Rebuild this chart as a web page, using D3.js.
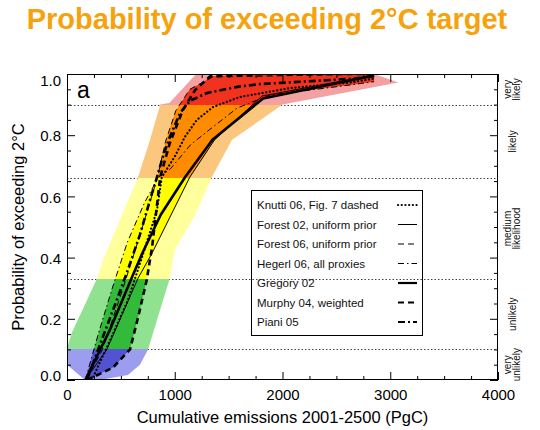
<!DOCTYPE html>
<html><head><meta charset="utf-8">
<script src="https://cdn.jsdelivr.net/npm/d3@7"></script>
<style>
body{margin:0;background:#fff}
svg{display:block}
text{font-family:"Liberation Sans",Arial,Helvetica,sans-serif}
</style>
</head><body>
<svg id="c" width="540" height="430"></svg>
<script>
// ---------------- data ----------------
const title = "Probability of exceeding 2°C target";
const xLabel = "Cumulative emissions 2001-2500 (PgC)";
const yLabel = "Probability of exceeding 2°C";
const xTicks = [0, 1000, 2000, 3000, 4000];
const yTicks = [0, 0.2, 0.4, 0.6, 0.8, 1.0];
const bandEdges = [0, 0.1, 0.33, 0.66, 0.9, 1.0];
const bandNames = [["very","unlikely"],["unlikely"],["medium","likelihood"],["likely"],["very","likely"]];
const seriesNames = ["Knutti 06, Fig. 7 dashed","Forest 02, uniform prior","Forest 06, uniform prior",
  "Hegerl 06, all proxies","Gregory 02","Murphy 04, weighted","Piani 05"];

// curves: [cumulative emissions PgC, probability]
const knutti06 = [[230,0],[400,0.13],[565,0.26],[695,0.4],[835,0.555],[880,0.663],[1000,0.73],[1095,0.795],
  [1205,0.85],[1355,0.892],[1605,0.925],[2070,0.954],[2625,0.972],[2850,0.985]];
const forest02 = [[170,0],[370,0.1],[660,0.333],[790,0.415],[1140,0.663],[1370,0.785],[1810,0.928],[2850,0.997]];
const forest06 = [[180,0],[330,0.1],[520,0.3],[700,0.5],[840,0.663],[915,0.78],[1010,0.88],[1140,0.95],[1350,0.99],[2850,1.0]];
const hegerl06 = [[170,0],[290,0.15],[420,0.3],[560,0.45],[720,0.58],[850,0.663],[960,0.69],[1150,0.77],
  [1355,0.827],[1580,0.889],[1885,0.931],[2625,0.964],[2850,0.975]];
const gregory02 = [[170,0],[400,0.165],[600,0.333],[700,0.415],[870,0.54],[1100,0.665],[1350,0.785],[1820,0.92],[2850,0.995]];
const murphy04 = [[185,0],[425,0.04],[585,0.1],[660,0.205],[740,0.327],[790,0.435],[865,0.663],[955,0.775],
  [1075,0.882],[1190,0.948],[1330,0.993],[1800,1.0],[2850,1.0]];
const piani05 = [[185,0],[305,0.115],[445,0.245],[565,0.36],[677,0.475],[770,0.588],[835,0.663],[890,0.73],
  [955,0.795],[1050,0.873],[1140,0.912],[1300,0.938],[1580,0.958],[1790,0.967],[2625,0.984],[2850,0.993]];
const curves = [knutti06, forest02, forest06, hegerl06, gregory02, murphy04, piani05];

// outer (uncertainty) envelope
const outerLeft = [[167,0],[0,0.05],[0,0.1],[10,0.115],[45,0.155],[165,0.245],[280,0.333],[335,0.392],
  [490,0.523],[660,0.663],[770,0.784],[865,0.9],[950,0.905],[1190,0.997]];
const outerRight = [[2850,1.0],[3075,0.972],[2000,0.9],[1530,0.784],[1345,0.663],[1190,0.54],[1000,0.425],
  [955,0.333],[865,0.23],[752,0.1],[677,0.05],[565,0.016],[305,0]];

// ---------------- styles ----------------
const lightColors = ["#9D9DF0","#90E291","#FFFF9C","#FBC67E","#F3A1A1"];
const darkColors  = ["#5353D2","#34BA3A","#FFFF00","#FF8C00","#F0321E"];
const lineStyles = [
  {w:2.2, dash:"0.1,3.6", cap:"round"},
  {w:1,   dash:null, cap:"butt"},
  {w:1,   dash:"6,4", cap:"butt"},
  {w:1,   dash:"6,3,1.5,3", cap:"butt"},
  {w:2.6, dash:null, cap:"butt"},
  {w:2.6, dash:"6,4", cap:"butt"},
  {w:2.6, dash:"7,3,2,3", cap:"butt"}
];

// ---------------- chart ----------------
const svg = d3.select("#c");
const x = d3.scaleLinear().domain([0,4000]).range([67,498]);
const y = d3.scaleLinear().domain([0,1]).range([380,74]);
const defs = svg.append("defs");
defs.append("clipPath").attr("id","plot").append("rect")
  .attr("x",x(0)).attr("y",y(1)).attr("width",x(4000)-x(0)).attr("height",y(0)-y(1));

bandEdges.slice(0,-1).forEach((lo,i)=>{
  const hi = bandEdges[i+1];
  defs.append("clipPath").attr("id","band"+i).append("rect")
    .attr("x",x(0)).attr("width",x(4000)-x(0))
    .attr("y",Math.round(y(hi)) - (i===bandEdges.length-2?2:0))
    .attr("height",Math.round(y(lo))-Math.round(y(hi)) + (i===bandEdges.length-2?2:0));
});

// reference dotted lines
svg.append("g").selectAll("line").data(bandEdges.slice(1,-1)).join("line")
  .attr("x1",x(0)).attr("x2",x(4000)).attr("y1",d=>Math.round(y(d))+0.5).attr("y2",d=>Math.round(y(d))+0.5)
  .attr("stroke","#444").attr("stroke-width",1).attr("stroke-dasharray","1.5,2");

// envelopes
const line = d3.line().x(d=>x(d[0])).y(d=>y(d[1]));
const outerPoly = outerLeft.concat(outerRight);

function crossings(c, v){
  const xs=[];
  for(let i=0;i<c.length-1;i++){
    const [x1,y1]=c[i],[x2,y2]=c[i+1];
    if(y1===y2){ if(y1===v) xs.push(x1,x2); }
    else if((v>=Math.min(y1,y2)) && (v<=Math.max(y1,y2))) xs.push(x1+(v-y1)/(y2-y1)*(x2-x1));
  }
  return xs;
}
const levels = d3.range(0,1.0001,0.0025).map(v=>Math.min(1,+v.toFixed(4)));
const innerL=[], innerR=[];
levels.forEach(v=>{
  let lo=Infinity, hi=-Infinity;
  curves.forEach(c=>{
    const xs=crossings(c,v);
    if(xs.length){ lo=Math.min(lo,d3.min(xs)); hi=Math.max(hi,d3.max(xs)); }
    else if(v>d3.max(c,d=>d[1])) hi=Math.max(hi,c[c.length-1][0]);
  });
  if(isFinite(lo)){ innerL.push([lo,v]); innerR.push([hi,v]); }
});
const innerPoly = innerL.concat(innerR.reverse());

const env = svg.append("g").attr("clip-path","url(#plot)");
lightColors.forEach((col,i)=>{
  env.append("path").attr("d",line(outerPoly)+"Z").attr("fill",col).attr("clip-path","url(#band"+i+")");
});
darkColors.forEach((col,i)=>{
  env.append("path").attr("d",line(innerPoly)+"Z").attr("fill",col).attr("clip-path","url(#band"+i+")");
});

// curves
const cg = svg.append("g").attr("clip-path","url(#plot)");
curves.forEach((c,i)=>{
  const s=lineStyles[i];
  cg.append("path").attr("d",line(c)).attr("fill","none").attr("stroke","#000")
    .attr("stroke-width",s.w).attr("stroke-dasharray",s.dash).attr("stroke-linecap",s.cap)
    .attr("stroke-linejoin","round");
});

// axes
const xMinor = d3.range(0,4001,250).filter(v=>!xTicks.includes(v));
const yMinor = d3.range(0,21).map(i=>i*0.05).filter(v=>!yTicks.some(t=>Math.abs(t-v)<1e-6));
function ax(gen, scale, ticks, size, fmt){
  const g = svg.append("g").call(gen(scale).tickValues(ticks).tickSize(size).tickFormat(fmt).tickPadding(9));
  g.select(".domain").remove();
  g.selectAll("line").attr("stroke","#000");
  return g;
}
const bottom = ax(d3.axisBottom, x, xTicks, -8, d3.format("d")).attr("transform",`translate(0,${y(0)})`);
ax(d3.axisBottom, x, xMinor, -4, "").attr("transform",`translate(0,${y(0)})`);
ax(d3.axisTop, x, xTicks, -8, "").attr("transform",`translate(0,${y(1)})`);
ax(d3.axisTop, x, xMinor, -4, "").attr("transform",`translate(0,${y(1)})`);
const left = ax(d3.axisLeft, y, yTicks, -8, d3.format(".1f")).attr("transform",`translate(${x(0)},0)`);
ax(d3.axisLeft, y, yMinor, -4, "").attr("transform",`translate(${x(0)},0)`);
ax(d3.axisRight, y, yTicks, -8, "").attr("transform",`translate(${x(4000)},0)`);
ax(d3.axisRight, y, yMinor, -4, "").attr("transform",`translate(${x(4000)},0)`);
bottom.selectAll("text").attr("font-size",15).attr("fill","#000").style("font-family","Liberation Sans, Arial, sans-serif");
left.selectAll("text").attr("font-size",15).attr("fill","#000").style("font-family","Liberation Sans, Arial, sans-serif")
  .attr("x",-6)
  .attr("dy",d=>d===1?"0.75em":(d===0?"0em":"0.38em"));

// frame
svg.append("rect").attr("x",x(0)+0.5).attr("y",y(1)+0.5).attr("width",x(4000)-x(0)-1).attr("height",y(0)-y(1)-1)
  .attr("fill","none").attr("stroke","#000").attr("stroke-width",1);

// panel letter
svg.append("text").attr("x",x(0)+10).attr("y",y(1)+24).attr("font-size",23).text("a");

// legend
const lg = svg.append("g");
lg.append("rect").attr("x",251.5).attr("y",190.5).attr("width",171).attr("height",145)
  .attr("fill","none").attr("stroke","#000").attr("stroke-width",1);
seriesNames.forEach((n,i)=>{
  const ty = 209 + i*19.5;
  lg.append("text").attr("x",257).attr("y",ty).attr("font-size",11.5).attr("fill","#111").text(n);
  const s=lineStyles[i];
  lg.append("line").attr("x1",398).attr("x2",417).attr("y1",ty-4).attr("y2",ty-4)
    .attr("stroke","#000").attr("stroke-width",s.w===1?1:2.2).attr("stroke-dasharray",s.dash).attr("stroke-linecap",s.cap);
});

// right side likelihood labels
bandNames.forEach((lines,i)=>{
  const cy = (y(bandEdges[i])+y(bandEdges[i+1]))/2;
  const t = svg.append("text").attr("transform",`translate(512,${cy}) rotate(-90)`)
    .attr("text-anchor","middle").attr("font-size",10).attr("fill","#111");
  const n = lines.length;
  lines.forEach((s,k)=>{
    t.append("tspan").attr("x",0).attr("y", (k-(n-1)/2)*9 + 3.5).text(s);
  });
});

// axis titles and title
svg.append("text").attr("x",(x(0)+x(4000))/2).attr("y",423).attr("text-anchor","middle")
  .attr("font-size",16.5).text(xLabel);
svg.append("text").attr("transform",`translate(24,${(y(0)+y(1))/2}) rotate(-90)`).attr("text-anchor","middle")
  .attr("font-size",16.5).text(yLabel);
svg.append("text").attr("x",267).attr("y",29).attr("text-anchor","middle").attr("font-size",29)
  .attr("font-weight","bold").attr("fill","#F6A20C").text(title);
</script>
</body></html>
